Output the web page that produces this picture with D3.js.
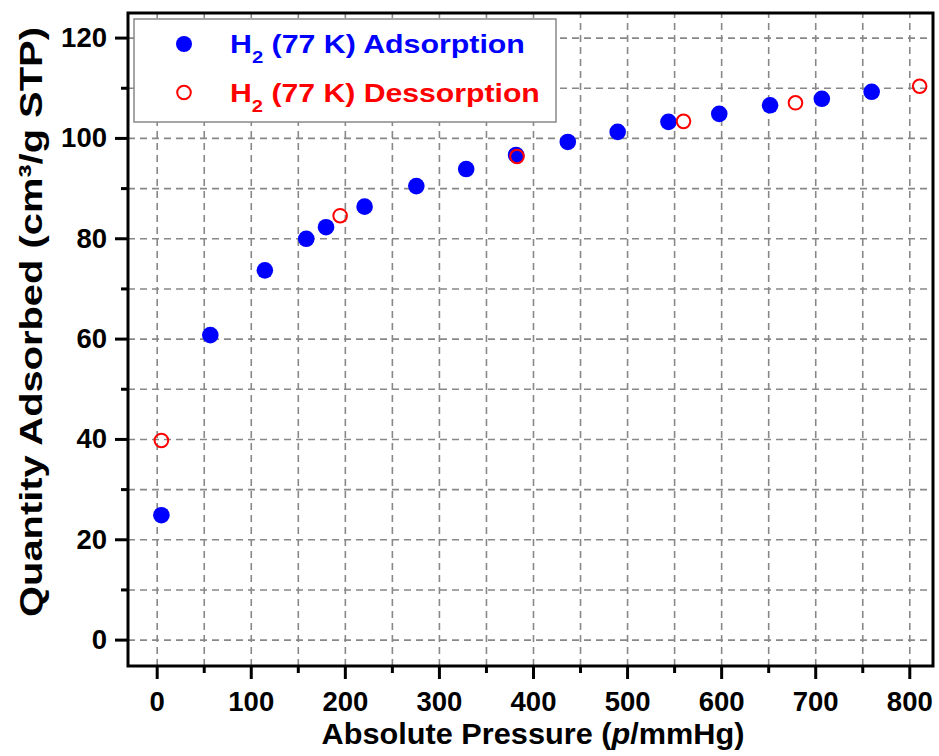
<!DOCTYPE html>
<html>
<head>
<meta charset="utf-8">
<script src="https://cdn.jsdelivr.net/npm/d3@7"></script>
<style>
  body { margin: 0; background: #fff; }
  text { font-family: "Liberation Sans", Arial, sans-serif; font-weight: bold; }
</style>
</head>
<body>
<div id="chart"></div>
<script>
// H2 isotherm at 77 K
var adsPressure = [5, 57, 115, 159, 180, 221, 276, 329, 382, 437, 490, 544, 598, 652, 707, 760];
var adsQuantity = [24.8, 60.7, 73.6, 79.9, 82.2, 86.3, 90.4, 93.8, 96.6, 99.2, 101.2, 103.2, 104.8, 106.5, 107.8, 109.2];
var desPressure = [5, 195, 383, 560, 679, 811];
var desQuantity = [39.7, 84.5, 96.3, 103.3, 107.0, 110.3];
var xTicks = [0, 100, 200, 300, 400, 500, 600, 700, 800];
var yTicks = [0, 20, 40, 60, 80, 100, 120];
var legendLabels = ["Adsorption", "Dessorption"];

var W = 939, H = 756;
var margin = {top: 13, right: 6, bottom: 90, left: 128},
    width = W - margin.left - margin.right,
    height = H - margin.top - margin.bottom;

var x = d3.scaleLinear().domain([-30.5, 825.2]).range([0, width]);
var y = d3.scaleLinear().domain([-5.26, 124.9]).range([height, 0]);

var svg = d3.select("#chart").append("svg")
    .attr("width", W)
    .attr("height", H)
  .append("g")
    .attr("transform", "translate(" + margin.left + "," + margin.top + ")");

// the original font is drawn wider than Arial, so stretch text to a target width
function stretch(sel, target, anchorX) {
  var w = sel.node().getBBox().width;
  var s = target / w;
  sel.attr("transform", (sel.attr("transform") || "") +
      " translate(" + anchorX + ",0) scale(" + s + ",1) translate(" + (-anchorX) + ",0)");
}

// grid every 50 on x, every 10 on y
var xGridVals = d3.range(0, 801, 50);
var yGridVals = d3.range(0, 121, 10);

svg.append("g")
    .attr("class", "grid")
    .attr("transform", "translate(0," + height + ")")
    .call(d3.axisBottom(x).tickValues(xGridVals).tickSize(-height).tickFormat(""))
    .call(function(g) { g.select(".domain").remove(); });

svg.append("g")
    .attr("class", "grid")
    .call(d3.axisLeft(y).tickValues(yGridVals).tickSize(-width).tickFormat(""))
    .call(function(g) { g.select(".domain").remove(); });

svg.selectAll(".grid line")
    .attr("stroke", "#888")
    .attr("stroke-width", 1.6)
    .attr("stroke-dasharray", "7,5");

// frame
svg.append("rect")
    .attr("width", width)
    .attr("height", height)
    .attr("fill", "none")
    .attr("stroke", "#000")
    .attr("stroke-width", 3);

// x axis: minor then major
svg.append("g")
    .attr("transform", "translate(0," + height + ")")
    .call(d3.axisBottom(x).tickValues(d3.range(50, 801, 100)).tickSize(7).tickFormat(""))
    .call(function(g) { g.select(".domain").remove(); });

var xAxis = svg.append("g")
    .attr("transform", "translate(0," + height + ")")
    .call(d3.axisBottom(x).tickValues(xTicks).tickSize(13).tickPadding(12));
xAxis.select(".domain").remove();
xAxis.selectAll("text").attr("font-size", 27.5).attr("fill", "#000")
    .style("font-family", '"Liberation Sans", Arial, sans-serif').style("font-weight", "bold");

// y axis: minor then major
svg.append("g")
    .call(d3.axisLeft(y).tickValues(d3.range(10, 121, 20)).tickSize(7).tickFormat(""))
    .call(function(g) { g.select(".domain").remove(); });

var yAxis = svg.append("g")
    .call(d3.axisLeft(y).tickValues(yTicks).tickSize(13).tickPadding(8));
yAxis.select(".domain").remove();
yAxis.selectAll("text").attr("font-size", 27.5).attr("fill", "#000")
    .style("font-family", '"Liberation Sans", Arial, sans-serif').style("font-weight", "bold");

svg.selectAll(".tick line").filter(function() { return !this.closest(".grid"); })
    .attr("stroke", "#000").attr("stroke-width", 3);

// axis titles
var xTitleX = 533 - margin.left;
var xTitle = svg.append("text")
    .attr("x", xTitleX)
    .attr("y", 744 - margin.top)
    .attr("text-anchor", "middle")
    .attr("font-size", 29.5);
xTitle.append("tspan").text("Absolute Pressure (");
xTitle.append("tspan").attr("font-style", "italic").text("p");
xTitle.append("tspan").text("/mmHg)");
stretch(xTitle, 423, xTitleX);

var yTitle = svg.append("g")
    .attr("transform", "translate(" + (42 - margin.left) + "," + (322 - margin.top) + ") rotate(-90)")
  .append("text")
    .attr("x", 0)
    .attr("y", 0)
    .attr("text-anchor", "middle")
    .attr("font-size", 32)
    .text("Quantity Adsorbed (cm\u00b3/g STP)");
stretch(yTitle, 590, 0);

// data points
svg.selectAll(".ads")
    .data(adsPressure)
  .enter().append("circle")
    .attr("class", "ads")
    .attr("cx", function(d) { return x(d); })
    .attr("cy", function(d, i) { return y(adsQuantity[i]); })
    .attr("r", 8.3)
    .attr("fill", "#0000ff");

svg.selectAll(".des")
    .data(desPressure)
  .enter().append("circle")
    .attr("class", "des")
    .attr("cx", function(d) { return x(d); })
    .attr("cy", function(d, i) { return y(desQuantity[i]); })
    .attr("r", 6.8)
    .attr("fill", "none")
    .attr("stroke", "#ff0000")
    .attr("stroke-width", 2);

// legend
var legend = svg.append("g")
    .attr("transform", "translate(" + (134 - margin.left) + "," + (19 - margin.top) + ")");

legend.append("rect")
    .attr("width", 422)
    .attr("height", 103)
    .attr("fill", "#fff")
    .attr("stroke", "#888")
    .attr("stroke-width", 1.5);

var colors = ["#0000ff", "#ff0000"];
var legendWidths = [295, 310];
legendLabels.forEach(function(lab, i) {
  var cy = 25 + i * 48.5;
  if (i === 0) {
    legend.append("circle").attr("cx", 50).attr("cy", cy).attr("r", 8).attr("fill", colors[i]);
  } else {
    legend.append("circle").attr("cx", 50).attr("cy", cy).attr("r", 6.8)
        .attr("fill", "none").attr("stroke", colors[i]).attr("stroke-width", 2);
  }
  var t = legend.append("text")
      .attr("x", 96)
      .attr("y", cy + 9.5)
      .attr("font-size", 25.5)
      .attr("fill", colors[i]);
  t.append("tspan").text("H");
  t.append("tspan").attr("font-size", 17).attr("dy", 10).text("2");
  t.append("tspan").attr("dy", -10).text(" (77 K) " + lab);
  stretch(t, legendWidths[i], 96);
});
</script>
</body>
</html>
